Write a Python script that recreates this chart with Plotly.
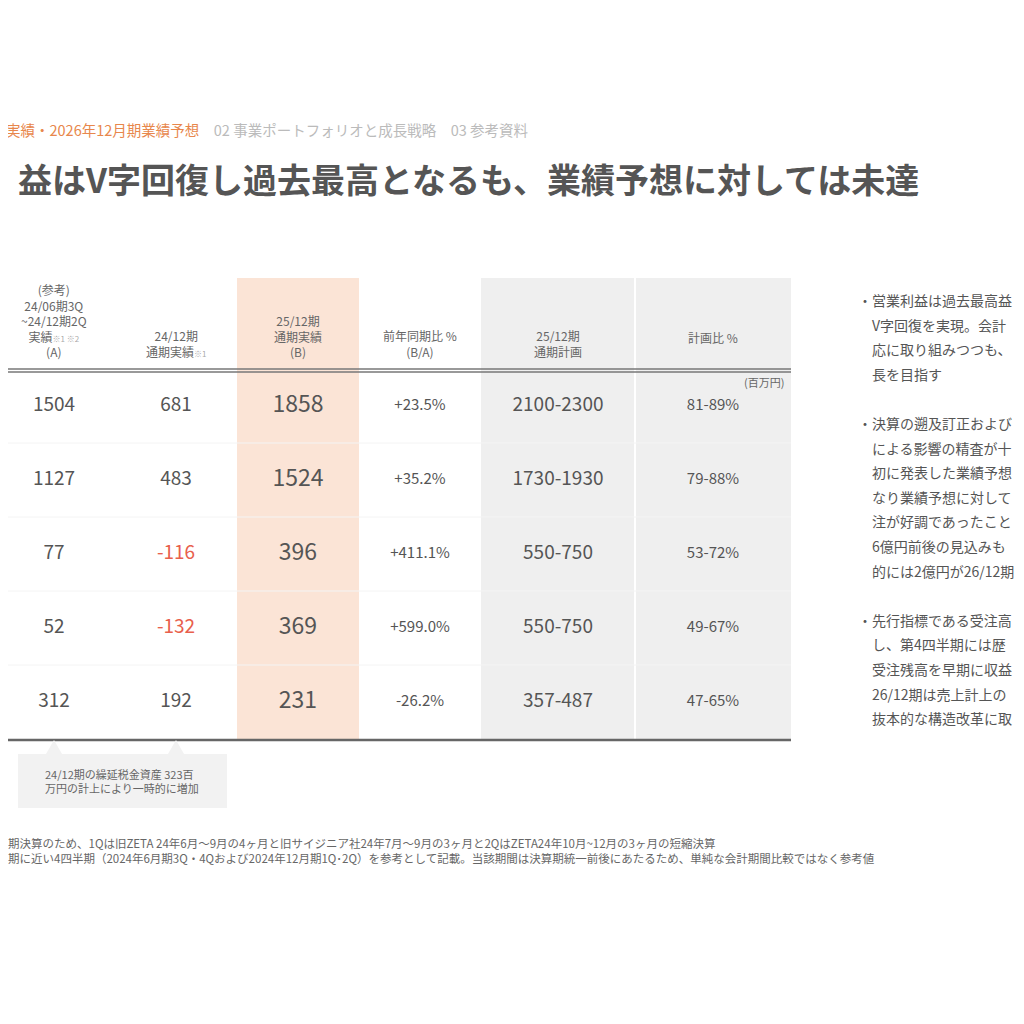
import plotly.graph_objects as go

# column data
col_a = ["1504", "1127", "77", "52", "312"]
col_2412 = ["681", "483", "-116", "-132", "192"]
col_b = ["1858", "1524", "396", "369", "231"]
col_yoy = ["+23.5%", "+35.2%", "+411.1%", "+599.0%", "-26.2%"]
col_plan = ["2100-2300", "1730-1930", "550-750", "550-750", "357-487"]
col_ratio = ["81-89%", "79-88%", "53-72%", "49-67%", "47-65%"]
headers = ["(参考)<br>24/06期3Q<br>~24/12期2Q<br>実績<span style='font-size:8px;color:#aaa'>※1 ※2</span><br>(A)",
           "24/12期<br>通期実績<span style='font-size:8px;color:#aaa'>※1</span>",
           "25/12期<br>通期実績<br>(B)",
           "前年同期比 %<br>(B/A)",
           "25/12期<br>通期計画",
           "計画比 %"]
side_lines = ["・営業利益は過去最高益", "　V字回復を実現。会計", "　応に取り組みつつも、", "　長を目指す", "",
              "・決算の遡及訂正および", "　による影響の精査が十", "　初に発表した業績予想", "　なり業績予想に対して",
              "　注が好調であったこと", "　6億円前後の見込みも", "　的には2億円が26/12期", "",
              "・先行指標である受注高", "　し、第4四半期には歴", "　受注残高を早期に収益", "　26/12期は売上計上の",
              "　抜本的な構造改革に取"]

col_x = [54, 176, 298, 420, 558, 713]
row_y = [406, 480, 554, 628, 702]
FONT = "Noto Sans CJK JP"
GREY = "#555555"
RED = "#e8604c"
OFF = 8  # page body margin

fig = go.Figure()

cols = [(col_a, 19), (col_2412, 19), (col_b, 23), (col_yoy, 15), (col_plan, 19), (col_ratio, 15)]
for (vals, size), x in zip(cols, col_x):
    colors = [RED if v.startswith("-") and vals is col_2412 else GREY for v in vals]
    fig.add_trace(go.Scatter(x=[x] * len(vals), y=row_y, mode="text", text=vals,
                             textfont=dict(family=FONT, size=size, color=colors),
                             hoverinfo="skip", showlegend=False))

shapes = [
    dict(type="rect", x0=237, x1=359, y0=278, y1=740, fillcolor="#fbe4d6", line_width=0, layer="below"),
    dict(type="rect", x0=481, x1=634, y0=278, y1=740, fillcolor="#efefef", line_width=0, layer="below"),
    dict(type="rect", x0=636, x1=791, y0=278, y1=740, fillcolor="#efefef", line_width=0, layer="below"),
    dict(type="line", x0=0, x1=791, y0=369, y1=369, line=dict(color="#777", width=1.5)),
    dict(type="line", x0=0, x1=791, y0=372, y1=372, line=dict(color="#777", width=1.5)),
    dict(type="line", x0=0, x1=791, y0=740, y1=740, line=dict(color="#666", width=2.5)),
    dict(type="rect", x0=18, x1=227, y0=754, y1=808, fillcolor="#f2f2f2", line_width=0),
    dict(type="path", path="M 46 754 L 54 740 L 62 754 Z", fillcolor="#f2f2f2", line_width=0),
    dict(type="path", path="M 168 754 L 176 740 L 184 754 Z", fillcolor="#f2f2f2", line_width=0),
]
for y in [443, 517, 591, 665]:
    shapes.append(dict(type="line", x0=0, x1=791, y0=y, y1=y, line=dict(color="#f4f4f4", width=1)))

ann = []
for h, x in zip(headers, col_x):
    ann.append(dict(x=x, y=362, text=h, showarrow=False, yanchor="bottom", xref="x", yref="y",
                    font=dict(family=FONT, size=12, color="#666")))
ann[-1]["y"] = 348
ann += [
    dict(x=530, y=129, xanchor="right", yanchor="middle", showarrow=False, xref="x", yref="y",
         text="<span style='color:#e8874c'>実績・2026年12月期業績予想</span>"
              "<span style='color:#bbb'>　02 事業ポートフォリオと成長戦略　03 参考資料</span>",
         font=dict(family=FONT, size=14.5)),
    dict(x=921, y=178, xanchor="right", yanchor="middle", showarrow=False, xref="x", yref="y",
         text="<b>益はV字回復し過去最高となるも、業績予想に対しては未達</b>",
         font=dict(family=FONT, size=34, color=GREY)),
    dict(x=786, y=382, xanchor="right", showarrow=False, xref="x", yref="y",
         text="(百万円)", font=dict(family=FONT, size=11, color="#666")),
    dict(x=122, y=781, showarrow=False, xref="x", yref="y",
         text="24/12期の繰延税金資産 323百<br>万円の計上により一時的に増加",
         align="left", font=dict(family=FONT, size=11, color="#666")),
    dict(x=877, y=850, xanchor="right", yanchor="middle", showarrow=False, xref="x", yref="y", align="left",
         text="期決算のため、1Qは旧ZETA 24年6月～9月の4ヶ月と旧サイジニア社24年7月～9月の3ヶ月と2QはZETA24年10月~12月の3ヶ月の短縮決算<br>"
              "期に近い4四半期（2024年6月期3Q・4Qおよび2024年12月期1Q･2Q）を参考として記載。当該期間は決算期統一前後にあたるため、単純な会計期間比較ではなく参考値",
         font=dict(family=FONT, size=11.5, color="#666")),
]
for i, line in enumerate(side_lines):
    if line:
        ann.append(dict(x=856, y=300 + i * 24.6, xanchor="left", showarrow=False, xref="x", yref="y",
                        text=line, font=dict(family=FONT, size=14, color=GREY)))

fig.update_layout(width=1024, height=1024, margin=dict(l=0, r=0, t=0, b=0),
                  plot_bgcolor="white", paper_bgcolor="white",
                  xaxis=dict(range=[OFF, 1024 + OFF], visible=False, fixedrange=True),
                  yaxis=dict(range=[1024 + OFF, OFF], visible=False, fixedrange=True),
                  shapes=shapes, annotations=ann)

fig.write_html("out.html")
